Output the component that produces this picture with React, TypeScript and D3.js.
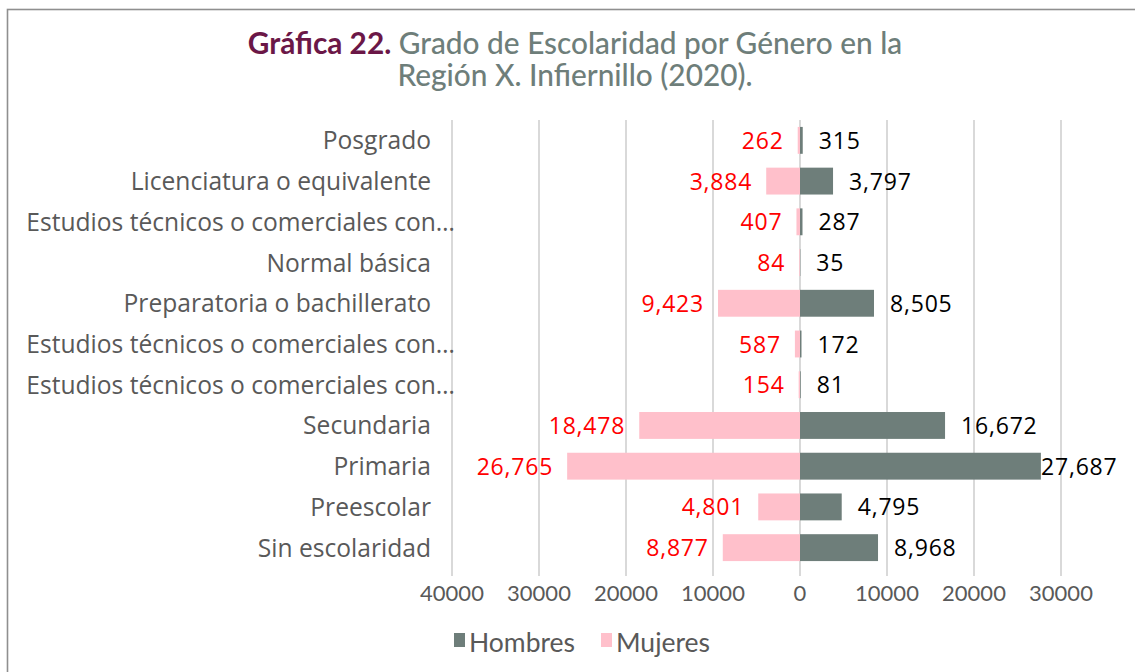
import React from "react";
import * as d3 from "d3";

const categories = [
  "Posgrado",
  "Licenciatura o equivalente",
  "Estudios técnicos o comerciales con…",
  "Normal básica",
  "Preparatoria o bachillerato",
  "Estudios técnicos o comerciales con…",
  "Estudios técnicos o comerciales con…",
  "Secundaria",
  "Primaria",
  "Preescolar",
  "Sin escolaridad",
];
const hombres = [315, 3797, 287, 35, 8505, 172, 81, 16672, 27687, 4795, 8968];
const mujeres = [262, 3884, 407, 84, 9423, 587, 154, 18478, 26765, 4801, 8877];
const tickValues = [-40000, -30000, -20000, -10000, 0, 10000, 20000, 30000];
const seriesNames = ["Hombres", "Mujeres"];

const W = 1135;
const H = 672;
const colH = "#6e7e7a";
const colM = "#ffc0cb";
const txt = "#595959";

export default function App() {
  const x = d3.scaleLinear().domain([-40000, 30000]).range([452, 1061]);
  const y = d3
    .scaleBand<number>()
    .domain(d3.range(categories.length))
    .range([120, 568])
    .paddingInner(0.34)
    .paddingOuter(0.17);
  const fmt = d3.format(",");
  const labelFont = "Lato, 'Open Sans', sans-serif";
  const catFont = "'Open Sans', Lato, sans-serif";
  const numFont = "'Open Sans', 'Noto Sans', sans-serif";
  return (
    <svg width={W} height={H} style={{ position: "absolute", left: 0, top: 0 }}>
      <rect x={0} y={0} width={W} height={H} fill="#fff" />
      <rect x={7.5} y={9.5} width={W + 10} height={H + 10} fill="none" stroke="#8f8f8f" strokeWidth={1.6} />
      <text x={575} y={54} textAnchor="middle" fontFamily={labelFont} fontSize={29.8}>
        <tspan fill="#6b1747" fontWeight={700}>Gráfica 22.</tspan>
        <tspan fill="#6e7e7a" fontWeight={500}> Grado de Escolaridad por Género en la</tspan>
      </text>
      <text x={575} y={86} textAnchor="middle" fontFamily={labelFont} fontSize={29.8} fill="#6e7e7a" fontWeight={500}>
        Región X. Infiernillo (2020).
      </text>
      {tickValues.map((t) => (
        <g key={t}>
          <line x1={x(t)} x2={x(t)} y1={120} y2={576} stroke="#d9d9d9" strokeWidth={2} />
          <text x={x(t)} y={601} textAnchor="middle" fontFamily={labelFont} fontSize={22} fill={txt}>
            {Math.abs(t)}
          </text>
        </g>
      ))}
      {categories.map((c, i) => {
        const yy = y(i)!;
        const bh = y.bandwidth();
        const cy = yy + bh / 2;
        const xm = x(-mujeres[i]);
        const xh = x(hombres[i]);
        const hLabel = fmt(hombres[i]);
        const hx = Math.min(xh + 16, 1122 - hLabel.length * 13.5);
        return (
          <g key={i}>
            <rect x={xm} y={yy} width={x(0) - xm} height={bh} fill={colM} />
            <rect x={x(0)} y={yy} width={xh - x(0)} height={bh} fill={colH} />
            <text x={c.endsWith("…") ? 455 : 431} y={cy + 9} textAnchor="end" fontFamily={catFont} fontSize={24.6} fill={txt}>
              {c}
            </text>
            <text x={xm - 14} y={cy + 8.5} textAnchor="end" fontFamily={numFont} fontSize={23} letterSpacing={0.8} fill="#ff0000">
              {fmt(mujeres[i])}
            </text>
            <text x={hx} y={cy + 8.5} textAnchor="start" fontFamily={numFont} fontSize={23} letterSpacing={0.8} fill="#000">
              {hLabel}
            </text>
          </g>
        );
      })}
      <rect x={454} y={633} width={11} height={14} fill={colH} />
      <text x={469} y={652} fontFamily={labelFont} fontSize={26.5} fill={txt}>{seriesNames[0]}</text>
      <rect x={601} y={633} width={11} height={14} fill={colM} />
      <text x={616} y={652} fontFamily={labelFont} fontSize={26.5} fill={txt}>{seriesNames[1]}</text>
    </svg>
  );
}
